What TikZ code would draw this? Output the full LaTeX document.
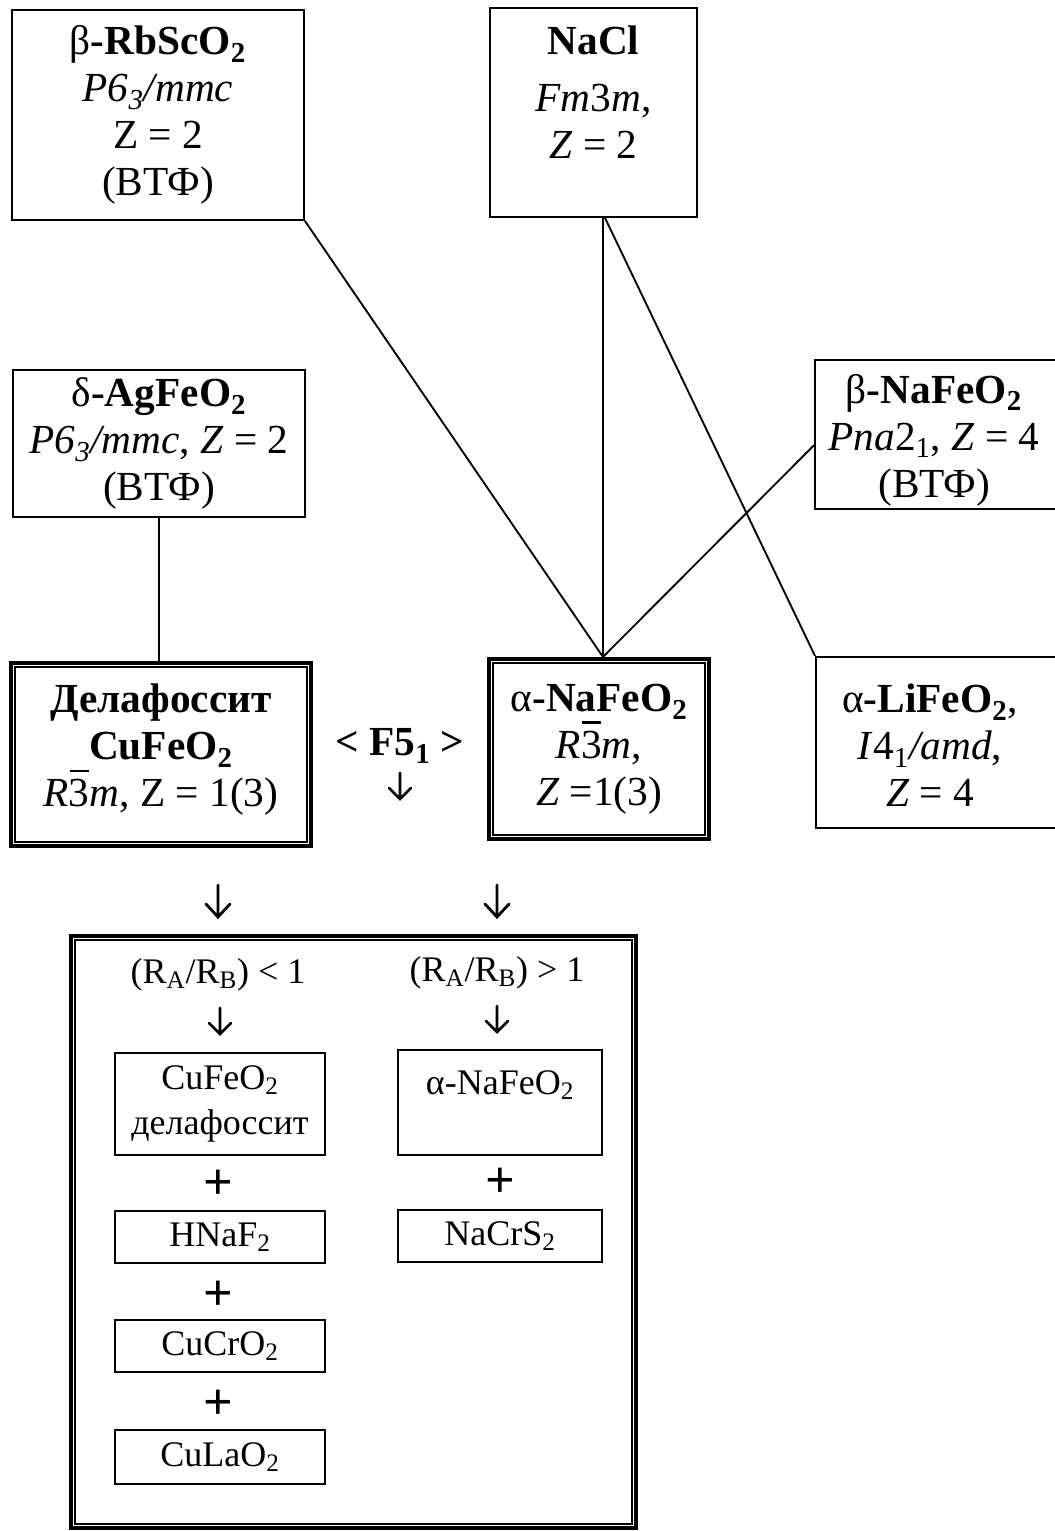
\documentclass[tikz,border=0pt]{standalone}
\usepackage{fontspec}
\setmainfont{Liberation Serif}
\newcommand\ovbar[1]{\leavevmode\rlap{\kern0.03em\rule[0.84em]{0.46em}{0.055em}}#1}
\newcommand\sbs[1]{\textsubscript{#1}}
\newcommand\tfont{\fontsize{31}{35.25}\selectfont}
\newcommand\sfont{\fontsize{27}{34}\selectfont}
\newcommand\pfont{\fontsize{39}{40}\selectfont\bfseries}
\begin{document}
\begin{tikzpicture}[x=0.75pt,y=-0.75pt,
  box/.style={draw, line width=1.4pt, inner sep=0pt, align=center, font=\tfont},
  sbox/.style={draw, line width=1.2pt, inner sep=0pt, align=center, font=\sfont, minimum width=157.5pt},
  txt/.style={inner sep=0pt, align=center, font=\tfont},
  stxt/.style={inner sep=0pt, align=center, font=\sfont},
  plus/.style={inner sep=0pt, font=\pfont},
  conn/.style={line width=1.4pt},
  tri/.style={draw, line width=1.6pt, inner sep=0pt, align=center, font=\tfont},
  triin/.style={line width=1pt},
  downarr/.pic={\draw[line width=2.1pt, line cap=round, line join=miter] (0,-16) -- (0,16) (-12,3) -- (0,16) -- (12,3);},
  smallarr/.pic={\draw[line width=2pt, line cap=round, line join=miter] (0,-13) -- (0,13) (-11,2) -- (0,13) -- (11,2);}]
\useasboundingbox (0,0) rectangle (1054,1531);

% top boxes
\node[box, minimum width=219pt, minimum height=157.5pt] (rb) at (158,115)
  {β\textbf{-RbScO\sbs{2}}\\ \textit{P6\sbs{3}/mmc}\\ Z = 2\\ (ВТФ)};
\node[box, minimum width=155.25pt, minimum height=156.75pt] (nacl) at (593.5,112.5) {};
\node[txt] (nacltxt) at (593.5,92) {\textbf{NaCl}\\[8pt] \textit{Fm}3\textit{m},\\ \textit{Z} = 2};
\node[box, minimum width=219pt, minimum height=110.25pt] (ag) at (159,443.5)
  {δ\textbf{-AgFeO\sbs{2}}\\ \textit{P6\sbs{3}/mmc}, \textit{Z} = 2\\ (ВТФ)};
\node[box, minimum width=182.25pt, minimum height=111.75pt] (bnf) at (936.5,434.5) {};
\node[txt] (bnftxt) at (934,440) {β\textbf{-NaFeO\sbs{2}}\\ \textit{Pna}2\sbs{1}, \textit{Z} = 4\\ (ВТФ)};

% middle boxes
\node[tri, minimum width=226.5pt, minimum height=138.75pt] (del) at (161,754.5) {};
\draw[triin] ([shift={(3,3)}]del.north west) rectangle ([shift={(-3,-3)}]del.south east);
\draw[triin] ([shift={(6,6)}]del.north west) rectangle ([shift={(-6,-6)}]del.south east);
\node[txt] (deltxt) at (161,750) {\textbf{Делафоссит}\\ \textbf{CuFeO\sbs{2}}\\ \textit{R}\ovbar{3}\textit{m}, Z = 1(3)};

\node[tri, minimum width=166.5pt, minimum height=136.5pt] (an) at (599,749) {};
\draw[triin] ([shift={(3,3)}]an.north west) rectangle ([shift={(-3,-3)}]an.south east);
\draw[triin] ([shift={(6,6)}]an.north west) rectangle ([shift={(-6,-6)}]an.south east);
\node[txt] (antxt) at (599,749) {α\textbf{-NaFeO\sbs{2}}\\ \textit{R}\ovbar{3}\textit{m},\\ \textit{Z} =1(3)};

\node[box, minimum width=181.5pt, minimum height=128.25pt] (li) at (937,742.5) {};
\node[txt] (litxt) at (930,745) {α\textbf{-LiFeO\sbs{2}},\\ \textit{I}4\sbs{1}\textit{/amd},\\ \textit{Z} = 4};

\node[txt] (f5) at (400,746) {\textbf{< F5\sbs{1} >}};
\pic at (400,786) {smallarr};
\pic at (218,901) {downarr};
\pic at (497,901) {downarr};

% connectors
\coordinate (j) at ([xshift=3pt]an.north);
\draw[conn] (rb.south east) -- (j);
\draw[conn] (nacl.south -| j) -- (j);
\draw[conn] ([xshift=1.5pt]nacl.south -| j) -- (li.north west);
\draw[conn] ([yshift=-8pt]bnf.west) -- (j);
\draw[conn] (ag.south) -- (ag.south |- del.north);

% big box
\node[tri, minimum width=425.25pt, minimum height=445.5pt] (big) at (353.5,1232) {};
\draw[triin] ([shift={(3,3)}]big.north west) rectangle ([shift={(-3,-3)}]big.south east);
\draw[triin] ([shift={(6,6)}]big.north west) rectangle ([shift={(-6,-6)}]big.south east);

\node[stxt] (rl) at (218,975) {(R\sbs{A}/R\sbs{B}) < 1};
\pic at (220,1021) {smallarr};
\node[stxt] (rg) at (497,973) {(R\sbs{A}/R\sbs{B}) > 1};
\pic at (497,1019) {smallarr};

\node[sbox, minimum height=76.5pt] (c1) at (220,1104) {CuFeO\sbs{2}\\ делафоссит};
\node[plus] (p1) at (218,1185) {+};
\node[sbox, minimum height=39pt] (c2) at (220,1237) {HNaF\sbs{2}};
\node[plus] (p2) at (218,1296) {+};
\node[sbox, minimum height=39pt] (c3) at (220,1346) {CuCrO\sbs{2}};
\node[plus] (p3) at (218,1405) {+};
\node[sbox, minimum height=40.5pt] (c4) at (220,1457) {CuLaO\sbs{2}};

\node[sbox, minimum width=153pt, minimum height=78.75pt] (n1) at (500,1102.5) {};
\node[stxt] (n1txt) at (500,1085) {α-NaFeO\sbs{2}};
\node[plus] (p4) at (500,1183) {+};
\node[sbox, minimum width=153pt, minimum height=39pt] (n2) at (500,1236) {NaCrS\sbs{2}};
\end{tikzpicture}
\end{document}
